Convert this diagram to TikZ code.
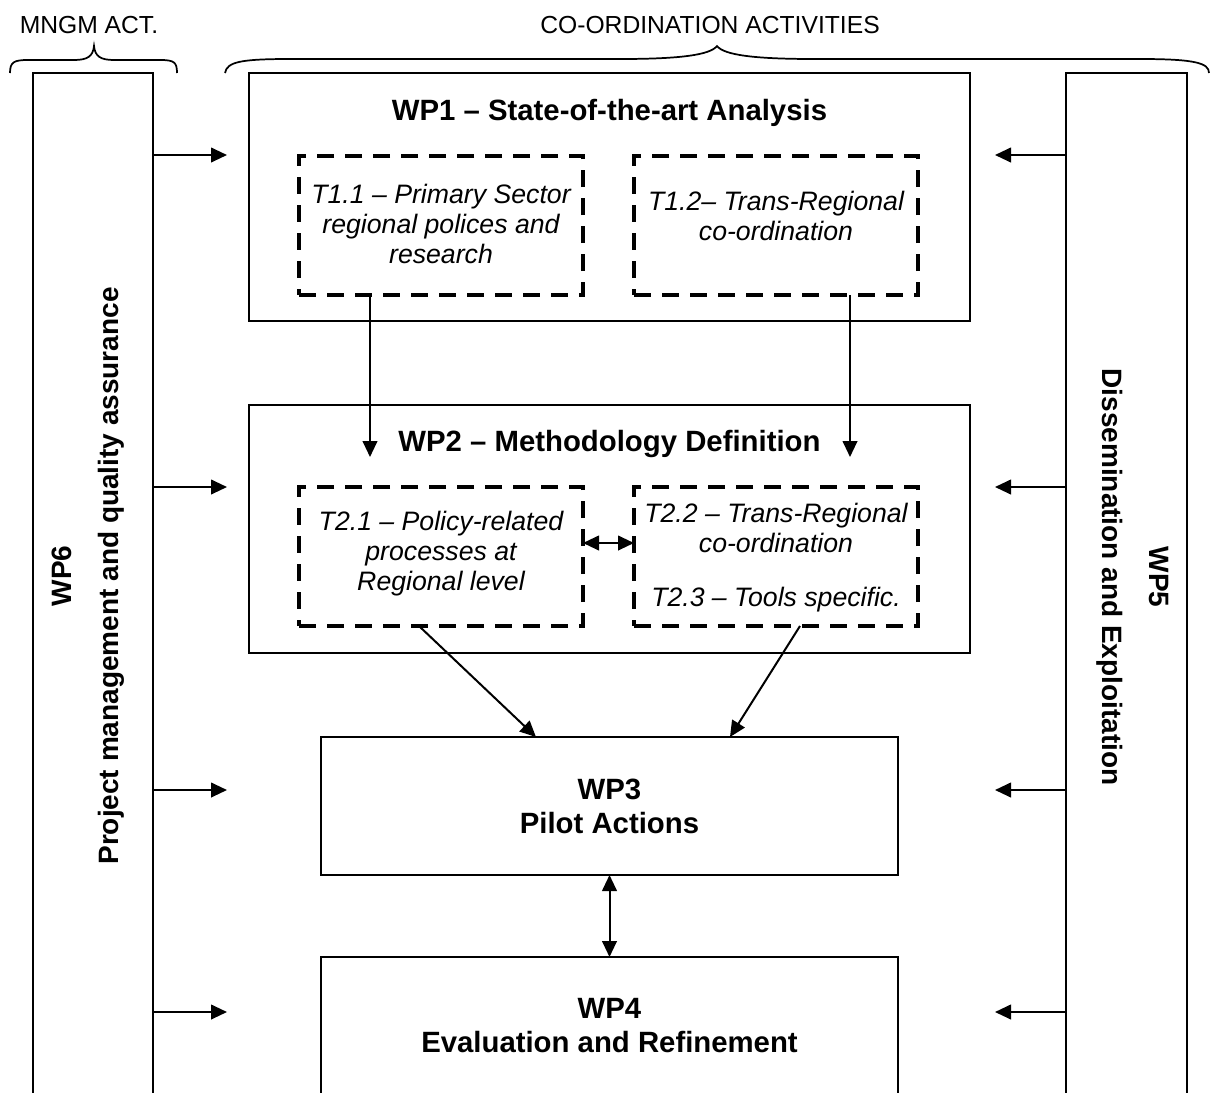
\documentclass[tikz,border=0pt]{standalone}
\usepackage{fontspec}
\setmainfont{Liberation Sans}
\usetikzlibrary{arrows.meta,calc}
\begin{document}
\begin{tikzpicture}[x=0.75pt,y=-0.75pt,
  box/.style={draw,line width=1.5pt,inner sep=0pt,outer sep=0pt},
  dbox/.style={draw,line width=3pt,dash pattern=on 12.5pt off 8.5pt,inner sep=0pt,outer sep=0pt},
  arr/.style={line width=1.5pt,-{Triangle[length=12pt,width=11pt]}},
  darr/.style={line width=1.5pt,{Triangle[length=12pt,width=11pt]}-{Triangle[length=12pt,width=11pt]}},
  brace/.style={line width=1.3pt},
  head/.style={font=\bfseries\fontsize{22}{25.5}\selectfont,align=center,inner sep=0pt},
  ital/.style={font=\itshape\fontsize{20}{22.5}\selectfont,align=center,inner sep=0pt},
  toplab/.style={font=\fontsize{18.5}{21}\selectfont,inner sep=0pt},
  vlab/.style={font=\bfseries\fontsize{21}{35}\selectfont,align=center,inner sep=0pt}
]
\clip (0,0) rectangle (1211,1093);
\useasboundingbox (0,0) rectangle (1211,1093);

% labels and braces
\node[toplab] (mngm) at (89,25) {MNGM ACT.};
\node[toplab] (coord) at (710,25) {CO-ORDINATION ACTIVITIES};
\draw[brace] (10,73) .. controls (10,62) and (14,60) .. (28,60) -- (74,60)
  .. controls (88,60) and (93,56) .. (94,46)
  .. controls (95,56) and (100,60) .. (114,60) -- (160,60)
  .. controls (174,60) and (177,62) .. (177,73);
\draw[brace] (225,73) .. controls (227,62) and (240,59) .. (290,59) -- (620,59)
  .. controls (680,59) and (710,55) .. (717,46)
  .. controls (724,55) and (754,59) .. (814,59) -- (1140,59)
  .. controls (1195,59) and (1209,63) .. (1209,73);

% side columns
\node[box,minimum width=90pt,minimum height=777.75pt] (wp6) at (93,591.5) {};
\node[box,minimum width=90.75pt,minimum height=777.75pt] (wp5) at (1126.5,591.5) {};
\node[vlab,rotate=90] (wp6txt) at (88,576) {WP6\\Project management and quality assurance};
\node[vlab,rotate=-90] (wp5txt) at (1133,577) {WP5\\Dissemination and Exploitation};

% WP1
\node[box,minimum width=540.75pt,minimum height=186pt] (wp1) at (609.5,197) {};
\node[head] (wp1t) at (609.5,113) {WP1 -- State-of-the-art Analysis};
\node[dbox,minimum width=213pt,minimum height=104.25pt] (t11) at (441,225.5) {};
\node[dbox,minimum width=213pt,minimum height=104.25pt] (t12) at (776,225.5) {};
\node[ital] (t11t) at (441,223.5) {T1.1 -- Primary Sector\\regional polices and\\research};
\node[ital] (t12t) at (776,215.5) {T1.2-- Trans-Regional\\co-ordination};

% WP2
\node[box,minimum width=540.75pt,minimum height=186pt] (wp2) at (609.5,529) {};
\node[head] (wp2t) at (609.5,444) {WP2 -- Methodology Definition};
\node[dbox,minimum width=213pt,minimum height=104.25pt] (t21) at (441,556.5) {};
\node[dbox,minimum width=213pt,minimum height=104.25pt] (t22) at (776,556.5) {};
\node[ital] (t21t) at (441,554) {T2.1 -- Policy-related\\processes at\\Regional level};
\node[ital] (t22t) at (776,558) {T2.2 -- Trans-Regional\\co-ordination\\[18pt]T2.3 -- Tools specific.};

% WP3, WP4
\node[box,minimum width=432.75pt,minimum height=103.5pt,head] (wp3) at (609.5,806) {WP3\\Pilot Actions};
\node[box,minimum width=432.75pt,minimum height=114.75pt] (wp4) at (609.5,1033.5) {};
\node[head] (wp4t) at (609.5,1026) {WP4\\Evaluation and Refinement};

% side arrows
\foreach \i/\y in {1/155,2/487,3/790,4/1012}{
  \coordinate (l\i) at (227,\y);
  \coordinate (r\i) at (995,\y);
  \draw[arr] (wp6.east |- l\i) -- (l\i);
  \draw[arr] (wp5.west |- r\i) -- (r\i);
}

% inner arrows
\coordinate (v1) at (370,457);
\coordinate (v2) at (850,457);
\draw[arr] (t11.south -| v1) -- (v1);
\draw[arr] (t12.south -| v2) -- (v2);
\coordinate (h1) at (0,543);
\draw[darr] (t21.east |- h1) -- (t22.west |- h1);
\coordinate (d1s) at (419,0);
\coordinate (d1e) at (536,0);
\coordinate (d2s) at (800,0);
\coordinate (d2e) at (730,0);
\draw[arr] (t21.south -| d1s) -- (wp3.north -| d1e);
\draw[arr] (t22.south -| d2s) -- (wp3.north -| d2e);
\draw[darr] (wp3.south) -- (wp4.north);
\end{tikzpicture}
\end{document}
